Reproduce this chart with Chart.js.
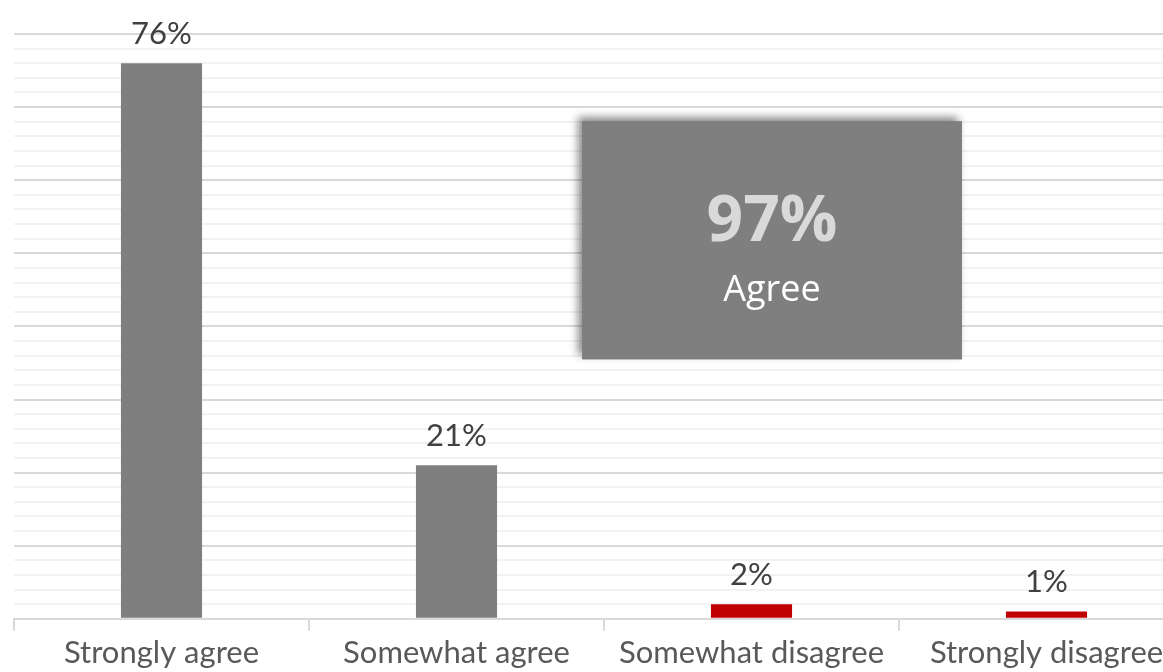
<!DOCTYPE html>
<html>
<head>
<meta charset="utf-8">
<script src="https://cdn.jsdelivr.net/npm/chart.js@4/dist/chart.umd.min.js"></script>
<style>
  html, body { margin: 0; padding: 0; background: #fff; overflow: hidden; }
  #wrap { width: 1200px; height: 672px; }
</style>
</head>
<body>
<div id="wrap"><canvas id="agreeChart"></canvas></div>
<script>
const categories = ['Strongly agree', 'Somewhat agree', 'Somewhat disagree', 'Strongly disagree'];
const shares = [76, 21, 2, 1];
const barColors = ['#7f7f7f', '#7f7f7f', '#c00000', '#c00000'];
const agreeTotal = '97%';
const agreeLabel = 'Agree';

const FONT = 'Lato, "Open Sans", sans-serif';

// value labels above bars
const valueLabels = {
  id: 'valueLabels',
  afterDatasetsDraw(chart) {
    const ctx = chart.ctx;
    const meta = chart.getDatasetMeta(0);
    ctx.save();
    ctx.font = '31px ' + FONT;
    ctx.fillStyle = '#404040';
    ctx.textAlign = 'center';
    ctx.textBaseline = 'bottom';
    meta.data.forEach((bar, i) => {
      ctx.fillText(shares[i] + '%', bar.x, bar.y - 14);
    });
    ctx.restore();
  }
};

// summary box
const summaryBox = {
  id: 'summaryBox',
  afterDraw(chart) {
    const a = chart.chartArea;
    const ctx = chart.ctx;
    const w = a.right - a.left, h = a.bottom - a.top;
    const x0 = a.left + w * 0.4814, x1 = a.left + w * 0.8034;
    const y0 = a.top + h * 0.149, y1 = a.top + h * 0.5565;
    ctx.save();
    ctx.shadowColor = 'rgba(0,0,0,0.45)';
    ctx.shadowBlur = 8;
    ctx.shadowOffsetX = -4;
    ctx.shadowOffsetY = -4;
    ctx.fillStyle = '#7f7f7f';
    ctx.fillRect(x0, y0, x1 - x0, y1 - y0);
    ctx.restore();
    ctx.save();
    const cx = (x0 + x1) / 2;
    ctx.textAlign = 'center';
    ctx.textBaseline = 'alphabetic';
    ctx.fillStyle = '#d9d9d9';
    ctx.font = 'bold 64px "Open Sans", sans-serif';
    ctx.fillText(agreeTotal, cx, y0 + 120);
    ctx.fillStyle = '#ffffff';
    ctx.font = '36px "Open Sans", sans-serif';
    ctx.fillText(agreeLabel, cx, y0 + 180);
    ctx.restore();
  }
};

new Chart(document.getElementById('agreeChart'), {
  type: 'bar',
  data: {
    labels: categories,
    datasets: [{
      data: shares,
      backgroundColor: barColors,
      barPercentage: 0.275,
      categoryPercentage: 1
    }]
  },
  options: {
    responsive: true,
    maintainAspectRatio: false,
    animation: false,
    layout: { padding: { left: 14, right: 6, top: 34, bottom: -4 } },
    plugins: {
      legend: { display: false },
      tooltip: { enabled: false }
    },
    scales: {
      x: {
        grid: {
          offset: true,
          drawOnChartArea: false,
          drawTicks: true,
          tickLength: 12,
          color: '#d9d9d9',
          lineWidth: 2
        },
        border: { display: true, color: '#d9d9d9', width: 2 },
        ticks: {
          color: '#595959',
          font: { family: FONT, size: 31 },
          padding: 4,
          maxRotation: 0
        }
      },
      y: {
        min: 0,
        max: 80,
        ticks: { display: false, stepSize: 2 },
        border: { display: false },
        grid: {
          drawTicks: false,
          lineWidth: 2,
          color: c => (c.tick.value % 10 === 0 ? '#d9d9d9' : '#f2f2f2')
        }
      }
    }
  },
  plugins: [valueLabels, summaryBox]
});
</script>
</body>
</html>
